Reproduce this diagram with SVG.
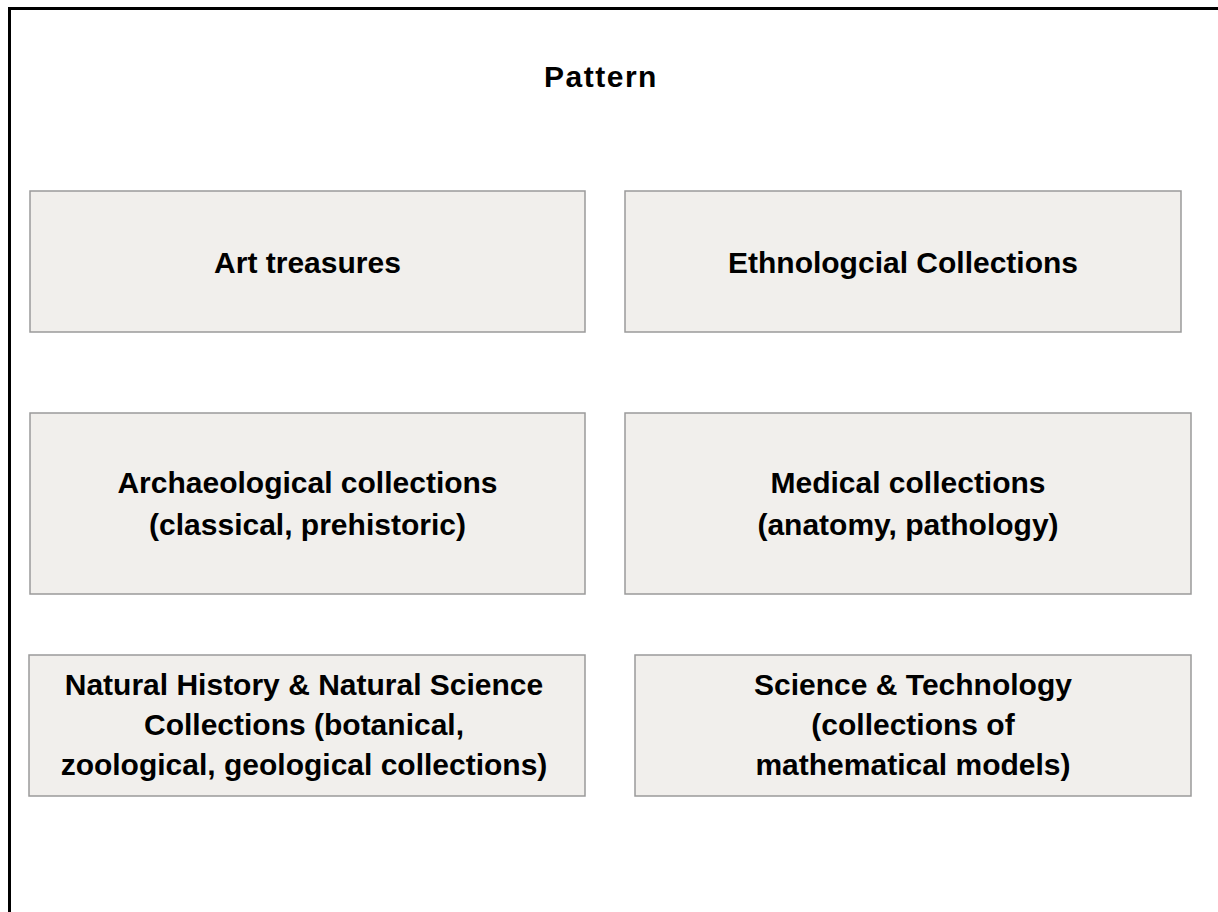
<svg xmlns="http://www.w3.org/2000/svg" width="1218" height="912" viewBox="0 0 1218 912">
<style>
.box{fill:#f1efec;stroke:#9a9a9a;stroke-width:1.5}
.lbl{font-family:"Liberation Sans",Arial,sans-serif;font-weight:bold;font-size:30px;fill:#000;text-anchor:middle}
.frame{stroke:#000;stroke-width:3;fill:none}
</style>
<rect width="1218" height="912" fill="#fff"/>
<path class="frame" d="M9.5,912 V8.5 H1218"/>
<text class="lbl" x="601" y="87" style="font-size:30px;letter-spacing:1.5px">Pattern</text>
<g id="connectors"></g>
<g id="art">
<rect class="box" x="30" y="191" width="555" height="141"/>
<text class="lbl" x="307.5" y="273">Art treasures</text>
</g>
<g id="ethno">
<rect class="box" x="625" y="191" width="556" height="141"/>
<text class="lbl" x="903" y="273">Ethnologcial Collections</text>
</g>
<g id="archaeo">
<rect class="box" x="30" y="413" width="555" height="181"/>
<text class="lbl" x="307.5" y="493">Archaeological collections</text>
<text class="lbl" x="307.5" y="535">(classical, prehistoric)</text>
</g>
<g id="medical">
<rect class="box" x="625" y="413" width="566" height="181"/>
<text class="lbl" x="908" y="493">Medical collections</text>
<text class="lbl" x="908" y="535">(anatomy, pathology)</text>
</g>
<g id="natural">
<rect class="box" x="29" y="655" width="556" height="141"/>
<text class="lbl" x="304" y="695">Natural History &amp; Natural Science</text>
<text class="lbl" x="304" y="735">Collections (botanical,</text>
<text class="lbl" x="304" y="775">zoological, geological collections)</text>
</g>
<g id="science">
<rect class="box" x="635" y="655" width="556" height="141"/>
<text class="lbl" x="913" y="695">Science &amp; Technology</text>
<text class="lbl" x="913" y="735">(collections of</text>
<text class="lbl" x="913" y="775">mathematical models)</text>
</g>
</svg>
